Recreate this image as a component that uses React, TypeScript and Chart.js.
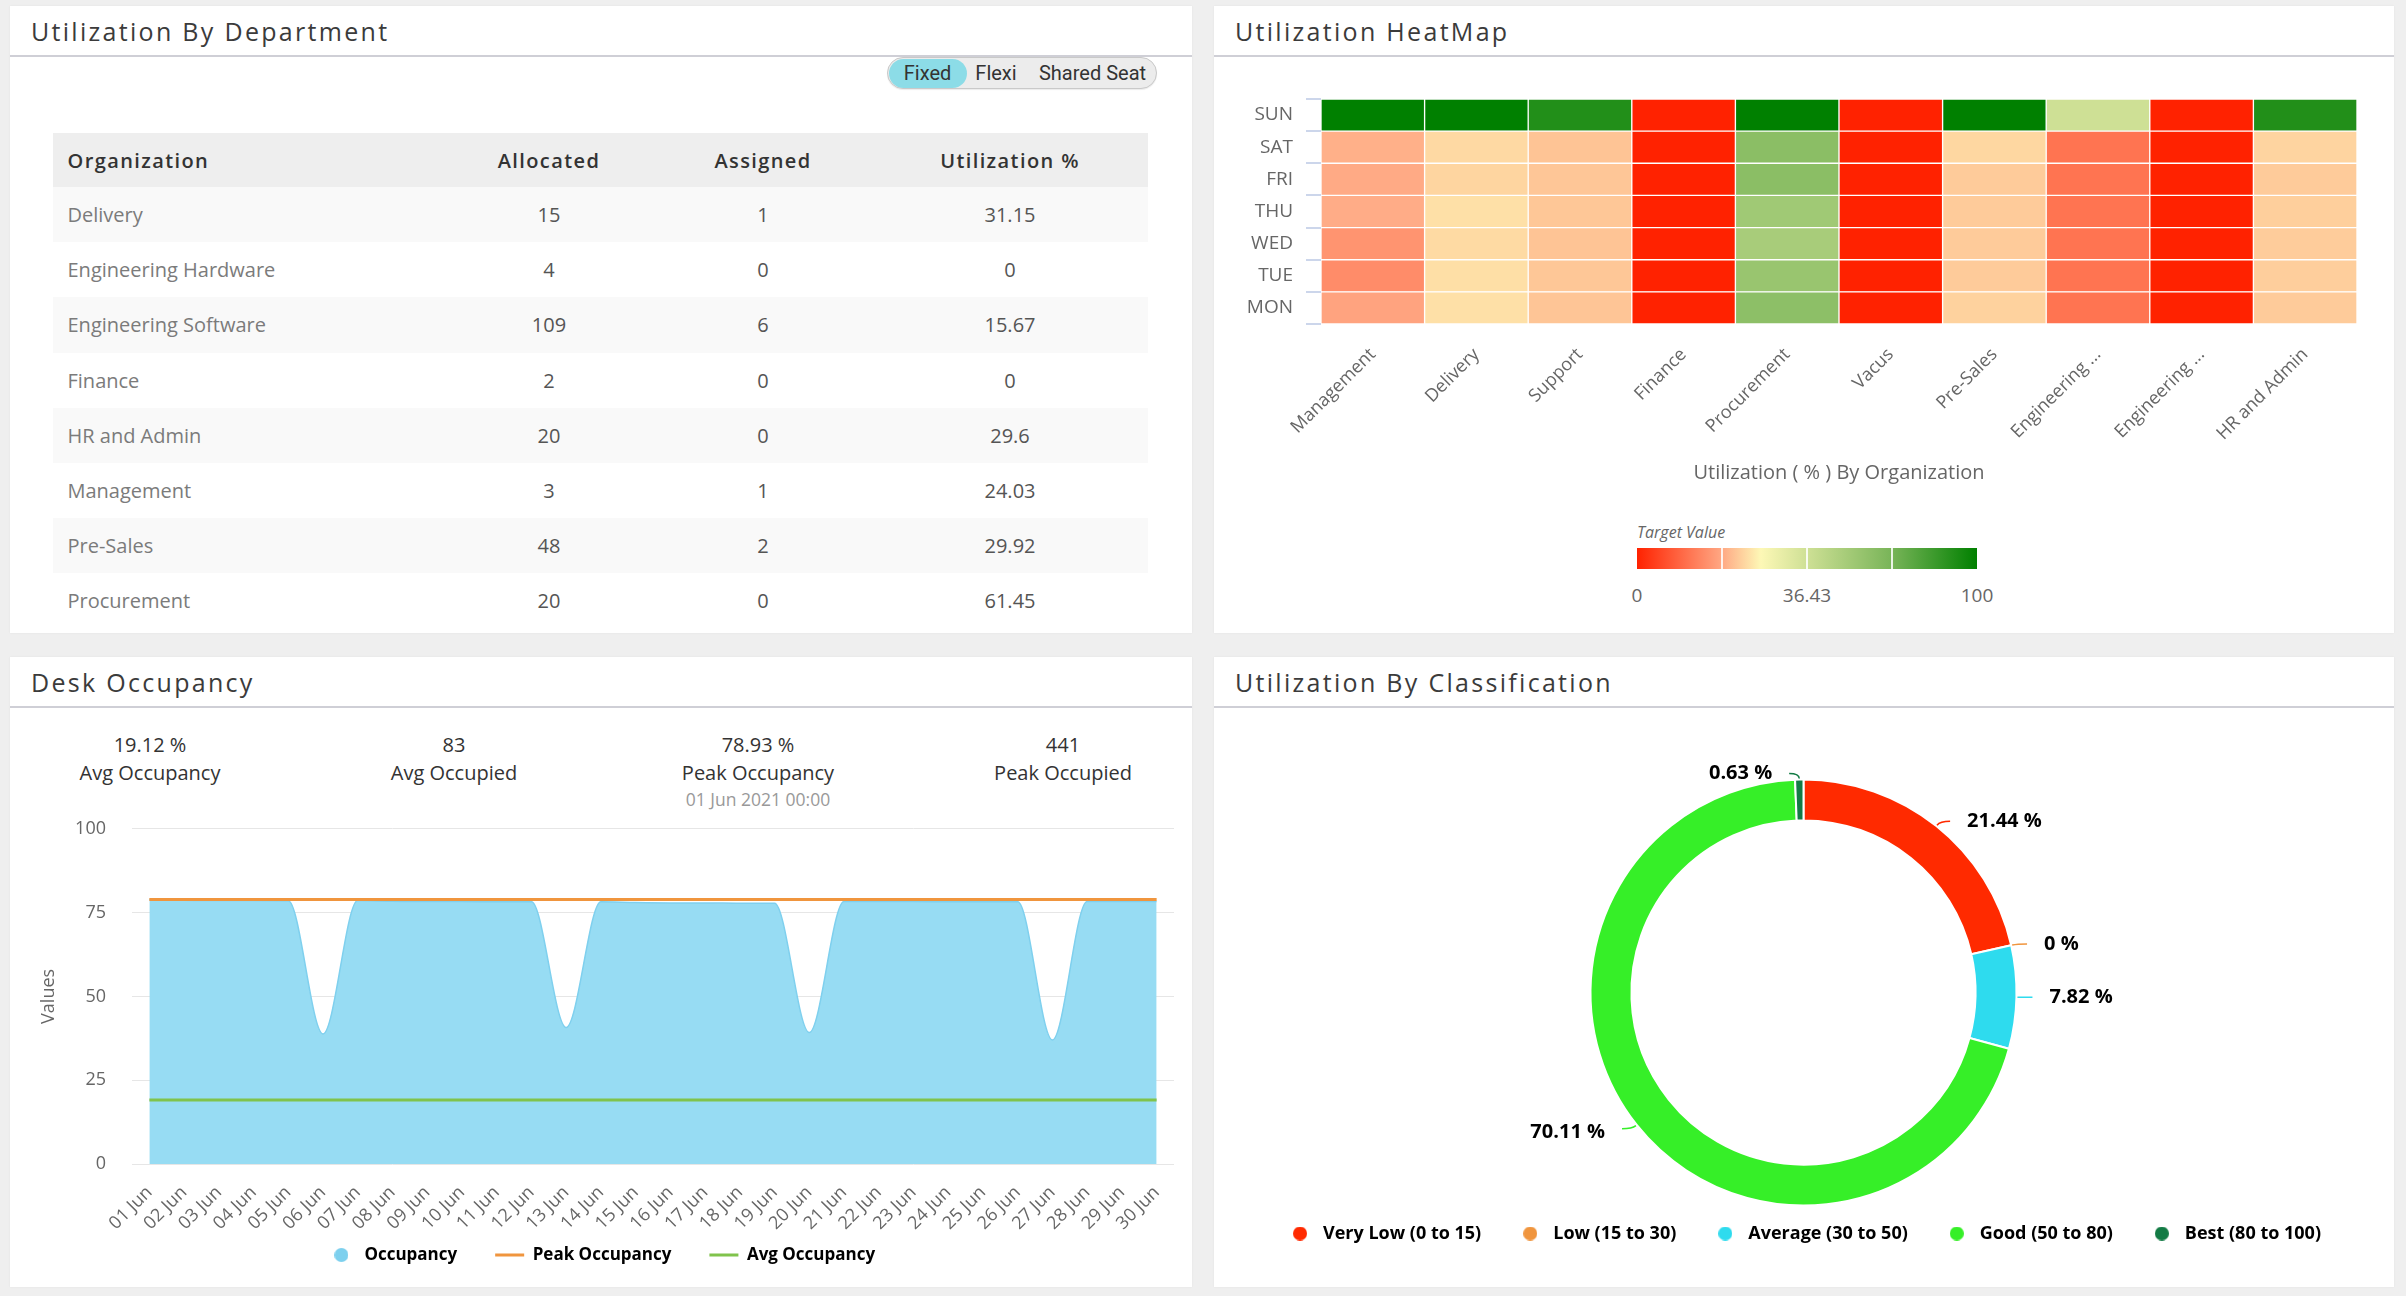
import React, { useEffect, useRef } from 'react';
import { Chart, registerables } from 'chart.js';

Chart.register(...registerables);

const FONT = '"Open Sans", "Noto Sans", "DejaVu Sans", sans-serif';
Chart.defaults.font.family = FONT;
Chart.defaults.color = '#666';

// ---- Utilization By Department ----
const seatTypes = ['Fixed', 'Flexi', 'Shared Seat'];
const deptColumns = ['Organization', 'Allocated', 'Assigned', 'Utilization %'];
const deptNames = ['Delivery', 'Engineering Hardware', 'Engineering Software', 'Finance', 'HR and Admin', 'Management', 'Pre-Sales', 'Procurement'];
const deptAllocated = [15, 4, 109, 2, 20, 3, 48, 20];
const deptAssigned = [1, 0, 6, 0, 0, 1, 2, 0];
const deptUtilization = ['31.15', '0', '15.67', '0', '29.6', '24.03', '29.92', '61.45'];

// ---- Utilization HeatMap ----
const heatOrgs = ['Management', 'Delivery', 'Support', 'Finance', 'Procurement', 'Vacus', 'Pre-Sales', 'Engineering Software', 'Engineering Hardware', 'HR and Admin'];
const heatDays = ['SUN', 'SAT', 'FRI', 'THU', 'WED', 'TUE', 'MON'];
const heatSun = [100, 100, 93, 0, 100, 0, 100, 50, 0, 93];
const heatSat = [26.1, 32, 29, 0, 69.5, 0, 31.7, 15.3, 0, 31.3];
const heatFri = [25.3, 31.5, 29.3, 0, 69.5, 0, 30, 15.3, 0, 30];
const heatThu = [25.6, 33, 29.4, 0, 63.3, 0, 30, 15.3, 0, 30.6];
const heatWed = [21.3, 32.2, 29, 0, 61.2, 0, 30, 15.3, 0, 30.2];
const heatTue = [19.8, 32.8, 29.4, 0, 65.4, 0, 30, 15.3, 0, 30.4];
const heatMon = [24, 33, 29.2, 0, 69, 0, 31, 15.3, 0, 30];
const heatLegendTicks = ['0', '36.43', '100'];
const heatColorStops: [number, string][] = [
  [0, '#ff2200'],
  [0.25, '#ffa884'],
  [0.3643, '#fdf8b6'],
  [0.75, '#78b458'],
  [1, '#008000'],
];

// ---- Desk Occupancy ----
const kpiValues = ['19.12 %', '83', '78.93 %', '441'];
const kpiLabels = ['Avg Occupancy', 'Avg Occupied', 'Peak Occupancy', 'Peak Occupied'];
const kpiNotes = ['', '', '01 Jun 2021 00:00', ''];
const occDates = ['01 Jun', '02 Jun', '03 Jun', '04 Jun', '05 Jun', '06 Jun', '07 Jun', '08 Jun', '09 Jun', '10 Jun',
  '11 Jun', '12 Jun', '13 Jun', '14 Jun', '15 Jun', '16 Jun', '17 Jun', '18 Jun', '19 Jun', '20 Jun',
  '21 Jun', '22 Jun', '23 Jun', '24 Jun', '25 Jun', '26 Jun', '27 Jun', '28 Jun', '29 Jun', '30 Jun'];
const occupancy = [78.9, 78.7, 78.6, 78.6, 78.5, 38.8, 78.6, 78.4, 78.3, 78.3,
  78.2, 78.2, 40.7, 78.2, 78.0, 77.9, 77.9, 77.8, 77.8, 39.2,
  78.3, 78.3, 78.3, 78.2, 78.2, 78.2, 37.0, 78.3, 78.3, 78.3];
const peakOccupancy = 78.93;
const avgOccupancy = 19.12;

// ---- Utilization By Classification ----
const classLabels = ['Very Low (0 to 15)', 'Low (15 to 30)', 'Average (30 to 50)', 'Good (50 to 80)', 'Best (80 to 100)'];
const classShares = [21.44, 0, 7.82, 70.11, 0.63];
const classColors = ['#ff2a00', '#f0953e', '#2edbee', '#36ef28', '#137b45'];

function hexToRgb(h: string) {
  const n = parseInt(h.slice(1), 16);
  return [(n >> 16) & 255, (n >> 8) & 255, n & 255];
}

function heatColor(v: number) {
  const t = Math.max(0, Math.min(1, v / 100));
  for (let i = 1; i < heatColorStops.length; i++) {
    const [p1, c1] = heatColorStops[i];
    if (t <= p1) {
      const [p0, c0] = heatColorStops[i - 1];
      const f = (t - p0) / (p1 - p0);
      const a = hexToRgb(c0);
      const b = hexToRgb(c1);
      const m = a.map((x, k) => Math.round(x + (b[k] - x) * f));
      return `rgb(${m[0]},${m[1]},${m[2]})`;
    }
  }
  return heatColorStops[heatColorStops.length - 1][1];
}

function dot(color: string, d = 14) {
  const c = document.createElement('canvas');
  c.width = d;
  c.height = d;
  const g = c.getContext('2d')!;
  g.fillStyle = color;
  g.beginPath();
  g.arc(d / 2, d / 2, d / 2, 0, Math.PI * 2);
  g.fill();
  return c;
}

function ChartBox({ left, top, width, height, make }: { left: number; top: number; width: number; height: number; make: () => any }) {
  const ref = useRef<HTMLCanvasElement>(null);
  useEffect(() => {
    const chart = new Chart(ref.current!, make());
    return () => chart.destroy();
  }, []);
  return <canvas ref={ref} width={width} height={height} style={{ position: 'absolute', left, top, width, height }} />;
}

const base = {
  responsive: false,
  maintainAspectRatio: false,
  animation: false,
  devicePixelRatio: 1,
  events: [],
};

function heatmapConfig() {
  const rows = [heatMon, heatTue, heatWed, heatThu, heatFri, heatSat, heatSun];
  const rowNames = ['MON', 'TUE', 'WED', 'THU', 'FRI', 'SAT', 'SUN'];
  return {
    type: 'bar',
    data: {
      labels: heatOrgs,
      datasets: rows.map((vals, r) => ({
        label: rowNames[r],
        data: vals.map(() => 1),
        backgroundColor: vals.map(heatColor),
        borderColor: '#ffffff',
        borderWidth: 1,
        borderSkipped: false,
        barPercentage: 1,
        categoryPercentage: 1,
        yAxisID: 'y',
      })),
    },
    options: {
      ...base,
      layout: { padding: { left: 0, right: 37, top: 41, bottom: 3 } },
      plugins: { legend: { display: false }, tooltip: { enabled: false } },
      scales: {
        x: {
          stacked: true,
          offset: true,
          grid: { display: false },
          border: { display: false },
          ticks: {
            autoSkip: false,
            maxRotation: 45,
            minRotation: 45,
            padding: 12,
            color: '#666',
            font: { size: 18 },
            callback: (_v: any, i: number) => {
              const s = heatOrgs[i];
              return s.length > 16 ? s.split(' ')[0] + ' ...' : s;
            },
          },
          title: { display: true, text: 'Utilization ( % ) By Organization', color: '#666', font: { size: 20 }, padding: 0 },
          afterFit: (s: any) => { s.height = 161; },
        },
        y: { stacked: true, min: 0, max: 7, display: false },
        days: {
          type: 'category',
          labels: heatDays,
          position: 'left',
          offset: true,
          grid: { offset: true, drawOnChartArea: false, tickLength: 15, color: '#ccd6eb', lineWidth: 2 },
          border: { display: false },
          ticks: { padding: 13, color: '#666', font: { size: 19 } },
          afterFit: (s: any) => { s.width = 107; },
        },
      },
    },
  };
}

function occupancyConfig() {
  const first = occDates[0];
  const last = occDates[occDates.length - 1];
  const circle = dot('#7dd0ee');
  return {
    type: 'line',
    data: {
      labels: occDates,
      datasets: [
        {
          label: 'Occupancy',
          data: occupancy,
          fill: 'origin',
          backgroundColor: '#97dcf3',
          borderColor: '#7fd0ee',
          borderWidth: 1.5,
          pointRadius: 0,
          cubicInterpolationMode: 'monotone',
          order: 3,
        },
        {
          label: 'Peak Occupancy',
          data: [{ x: first, y: peakOccupancy }, { x: last, y: peakOccupancy }],
          borderColor: '#f0953e',
          borderWidth: 3,
          pointRadius: 0,
          fill: false,
          order: 1,
        },
        {
          label: 'Avg Occupancy',
          data: [{ x: first, y: avgOccupancy }, { x: last, y: avgOccupancy }],
          borderColor: '#80c34c',
          borderWidth: 3,
          pointRadius: 0,
          fill: false,
          order: 2,
        },
      ],
    },
    options: {
      ...base,
      layout: { padding: { left: 18, right: 18, top: 0, bottom: 13.5 } },
      plugins: {
        tooltip: { enabled: false },
        legend: {
          position: 'bottom',
          labels: {
            usePointStyle: true,
            pointStyleWidth: 29,
            padding: 38,
            color: '#333',
            font: { size: 17, weight: 'bold' },
            generateLabels: (chart: any) =>
              chart.data.datasets.map((ds: any, i: number) => ({
                text: ds.label,
                fillStyle: i === 0 ? ds.backgroundColor : ds.borderColor,
                strokeStyle: ds.borderColor,
                lineWidth: i === 0 ? 0 : 3,
                pointStyle: i === 0 ? circle : 'line',
                hidden: false,
                datasetIndex: i,
              })),
          },
        },
      },
      scales: {
        x: {
          offset: true,
          grid: { display: false },
          border: { display: false },
          ticks: { autoSkip: false, maxRotation: 45, minRotation: 45, padding: 10, color: '#666', font: { size: 18 } },
          afterFit: (s: any) => {
            s.height = 44.5;
            // the rotated date labels run down past the axis box towards the legend
            s._computeLabelArea = () => undefined;
          },
        },
        y: {
          min: 0,
          max: 100,
          ticks: { stepSize: 25, padding: 26, color: '#666', font: { size: 18 } },
          grid: { color: '#e6e6e6', drawTicks: false },
          border: { display: false },
          title: { display: true, text: 'Values', color: '#666', font: { size: 18 }, padding: { top: 10 } },
          afterFit: (s: any) => { s.width = 104; },
        },
      },
    },
  };
}

const donutLabelsPlugin = {
  id: 'donutLabels',
  afterDatasetsDraw(chart: any) {
    const meta = chart.getDatasetMeta(0);
    const ds = chart.data.datasets[0];
    const ctx = chart.ctx;
    ctx.save();
    ctx.font = `bold 20px ${FONT}`;
    ctx.fillStyle = '#000';
    ctx.textBaseline = 'middle';
    meta.data.forEach((arc: any, i: number) => {
      const p = arc.getProps(['x', 'y', 'startAngle', 'endAngle', 'outerRadius'], true);
      const mid = (p.startAngle + p.endAngle) / 2;
      const c = Math.cos(mid);
      const s = Math.sin(mid);
      const dir = c >= 0 ? 1 : -1;
      const ax = p.x + c * (p.outerRadius + 6);
      const ay = p.y + s * (p.outerRadius + 6);
      ctx.strokeStyle = ds.backgroundColor[i];
      ctx.lineWidth = 1.5;
      ctx.beginPath();
      ctx.moveTo(p.x + c * (p.outerRadius + 1), p.y + s * (p.outerRadius + 1));
      ctx.quadraticCurveTo(ax, ay, ax + dir * 10, ay);
      ctx.stroke();
      ctx.textAlign = dir > 0 ? 'left' : 'right';
      ctx.fillText(`${ds.data[i]} %`, ax + dir * 27, ay + (s > 0.3 ? 4 : 0));
    });
    ctx.restore();
  },
};

function donutConfig() {
  return {
    type: 'doughnut',
    data: {
      labels: classLabels,
      datasets: [{ data: classShares, backgroundColor: classColors, borderColor: '#ffffff', borderWidth: 2 }],
    },
    plugins: [donutLabelsPlugin],
    options: {
      ...base,
      radius: 213,
      cutout: '80.8%',
      layout: { padding: { left: 0, right: 1, top: 83.5, bottom: 34.5 } },
      plugins: {
        tooltip: { enabled: false },
        legend: {
          position: 'bottom',
          labels: {
            usePointStyle: true,
            pointStyleWidth: 28,
            padding: 35,
            color: '#333',
            font: { size: 18, weight: 'bold' },
            generateLabels: () =>
              classLabels.map((t, i) => ({
                text: t,
                fillStyle: classColors[i],
                strokeStyle: classColors[i],
                lineWidth: 0,
                pointStyle: dot(classColors[i]),
                hidden: false,
                index: i,
              })),
          },
        },
      },
    },
  };
}

function Panel({ left, top, width, height, title }: { left: number; top: number; width: number; height: number; title: string }) {
  return (
    <div style={{ position: 'absolute', left, top, width, height, background: '#fff', boxShadow: '0 0 2px rgba(0,0,0,0.06)' }}>
      <div style={{ position: 'absolute', left: 0, top: 0, width, height: 49, borderBottom: '2px solid #cfcfd6' }}>
        <div style={{ position: 'absolute', left: 21, top: 8, font: `400 25px ${FONT}`, lineHeight: '34px', letterSpacing: '2.3px', color: '#3b3b3b', whiteSpace: 'nowrap' }}>{title}</div>
      </div>
    </div>
  );
}

const abs = (left: number, top: number, extra: any = {}) => ({ position: 'absolute' as const, left, top, ...extra });

export default function App() {
  const gradient = `linear-gradient(to right, ${heatColorStops.map(([p, c]) => `${c} ${p * 100}%`).join(', ')})`;
  const kpiCenters = [150, 454, 758, 1063];
  const seatCenters = [927.5, 996, 1092.5];
  const colWidths = [391, 210, 218, 276];
  return (
    <div style={{ position: 'absolute', left: 0, top: 0, width: 2406, height: 1296, background: '#efefef', overflow: 'hidden', fontFamily: FONT }}>
      <Panel left={10} top={6} width={1182} height={627} title="Utilization By Department" />
      <Panel left={1214} top={6} width={1180} height={627} title="Utilization HeatMap" />
      <Panel left={10} top={657} width={1182} height={630} title="Desk Occupancy" />
      <Panel left={1214} top={657} width={1180} height={630} title="Utilization By Classification" />

      {/* seat type switch */}
      <div style={abs(887, 57, { width: 270, height: 32, boxSizing: 'border-box', border: '1.5px solid #c9c9c9', borderRadius: 17, background: '#ececec', boxShadow: '0 1px 1px rgba(0,0,0,0.08)' })} />
      <div style={abs(888.5, 58.5, { width: 78, height: 29, borderRadius: 15, background: '#8cdce7' })} />
      {seatTypes.map((s, i) => (
        <div key={s} style={abs(seatCenters[i] - 70, 59, { width: 140, textAlign: 'center', font: `400 20px Roboto, ${FONT}`, lineHeight: '28px', color: '#333' })}>{s}</div>
      ))}

      {/* department table */}
      <table style={abs(53, 133, { width: 1095, borderCollapse: 'collapse', tableLayout: 'fixed', fontFamily: FONT })}>
        <colgroup>
          {colWidths.map((w, i) => <col key={i} style={{ width: w }} />)}
        </colgroup>
        <thead>
          <tr style={{ height: 54, background: '#eeeeee' }}>
            {deptColumns.map((c, i) => (
              <th key={c} style={{ padding: 0, paddingLeft: i === 0 ? 14.5 : 0, textAlign: i === 0 ? 'left' : 'center', font: `600 20px ${FONT}`, letterSpacing: '1.4px', color: '#333' }}>{c}</th>
            ))}
          </tr>
        </thead>
        <tbody>
          {deptNames.map((n, r) => (
            <tr key={n} style={{ height: 55.2, background: r % 2 === 0 ? '#f9f9f9' : '#ffffff' }}>
              <td style={{ padding: 0, paddingLeft: 14.5, font: `400 20px ${FONT}`, color: '#7b7b7b' }}>{n}</td>
              <td style={{ padding: 0, textAlign: 'center', font: `400 20px ${FONT}`, color: '#555' }}>{deptAllocated[r]}</td>
              <td style={{ padding: 0, textAlign: 'center', font: `400 20px ${FONT}`, color: '#555' }}>{deptAssigned[r]}</td>
              <td style={{ padding: 0, textAlign: 'center', font: `400 20px ${FONT}`, color: '#555' }}>{deptUtilization[r]}</td>
            </tr>
          ))}
        </tbody>
      </table>

      {/* heatmap */}
      <ChartBox left={1214} top={58} width={1180} height={430} make={heatmapConfig} />
      <div style={abs(1637, 521, { font: `italic 400 16px ${FONT}`, lineHeight: '22px', color: '#666' })}>Target Value</div>
      <div style={abs(1637, 548, { width: 340, height: 21, background: gradient })}>
        {[0.25, 0.5, 0.75].map((f) => (
          <div key={f} style={{ position: 'absolute', left: 340 * f - 1, top: 0, width: 2, height: 21, background: 'rgba(255,255,255,0.85)' }} />
        ))}
      </div>
      {heatLegendTicks.map((t, i) => (
        <div key={t} style={abs(1637 + 170 * i - 50, 582, { width: 100, textAlign: 'center', font: `400 19px ${FONT}`, lineHeight: '26px', color: '#666' })}>{t}</div>
      ))}

      {/* desk occupancy summary */}
      {kpiValues.map((v, i) => (
        <div key={i} style={abs(kpiCenters[i] - 150, 731, { width: 300, textAlign: 'center', color: '#333' })}>
          <div style={{ font: `400 20px ${FONT}`, lineHeight: '28px', height: 28 }}>{v}</div>
          <div style={{ font: `400 20px ${FONT}`, lineHeight: '27px', height: 27 }}>{kpiLabels[i]}</div>
          <div style={{ font: `400 17.5px ${FONT}`, lineHeight: '26px', height: 26, color: '#999' }}>{kpiNotes[i]}</div>
        </div>
      ))}
      <ChartBox left={10} top={792} width={1182} height={495} make={occupancyConfig} />

      {/* classification donut */}
      <ChartBox left={1214} top={712} width={1180} height={575} make={donutConfig} />
    </div>
  );
}
